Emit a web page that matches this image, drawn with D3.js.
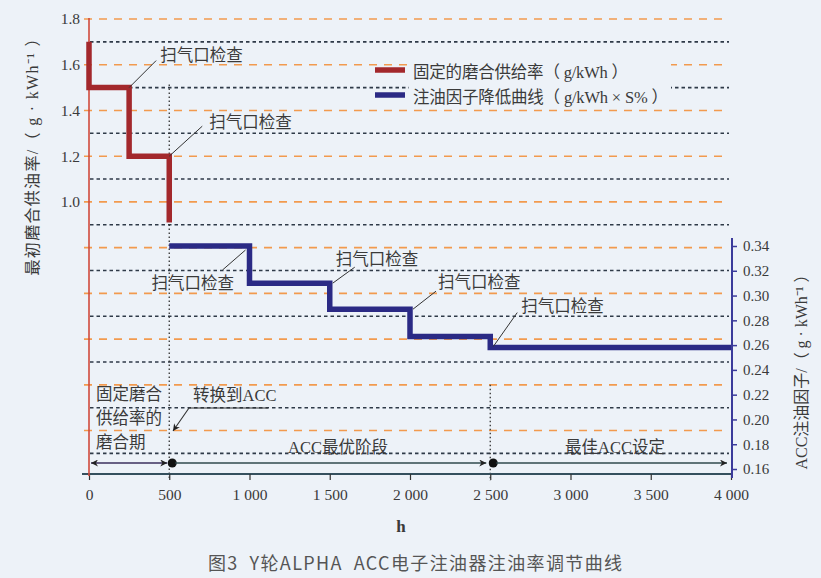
<!DOCTYPE html>
<html><head><meta charset="utf-8">
<script src="https://cdn.jsdelivr.net/npm/d3@7"></script>
<style>
html,body{margin:0;padding:0;background:#edf2f8;}
svg{display:block;}
</style></head>
<body>
<svg id="chart" width="821" height="578"></svg>
<script>
// ---- data ----
const redHours   = [0, 0, 250, 250, 500, 500];
const redRates   = [1.7, 1.5, 1.5, 1.2, 1.2, 0.91];
const blueHours  = [500, 1000, 1000, 1500, 1500, 2000, 2000, 2500, 2500, 4000];
const blueFactors= [0.34, 0.34, 0.31, 0.31, 0.289, 0.289, 0.267, 0.267, 0.258, 0.258];
const xTicks     = [0, 500, 1000, 1500, 2000, 2500, 3000, 3500, 4000];
const leftTicks  = [1.0, 1.2, 1.4, 1.6, 1.8];
const rightTicks = [0.16, 0.18, 0.20, 0.22, 0.24, 0.26, 0.28, 0.30, 0.32, 0.34];
const gridValues = d3.range(-1, 19).map(i => i / 10);   // -0.1 ... 1.8
const checkLabel = "扫气口检查";
const legendLabels = ["固定的磨合供给率（ g/kWh ）", "注油因子降低曲线（ g/kWh × S% ）"];
const phaseLabels = ["ACC最优阶段", "最佳ACC设定"];
const breakInLabel = ["固定磨合", "供给率的", "磨合期"];
const switchLabel = "转换到ACC";
const leftTitle = "最初磨合供油率/（ g · kWh⁻¹ ）";
const rightTitle = "ACC注油因子/（ g · kWh⁻¹ ）";
const xTitle = "h";
const caption = "图3  Y轮ALPHA  ACC电子注油器注油率调节曲线";

// ---- setup ----
const svg = d3.select("#chart");
const serif = "'Liberation Serif','Noto Sans CJK SC',serif";
const cjk = "'Noto Sans CJK SC',sans-serif";
const txt = "#3a3a3a";
const RED = "#a3282c", BLUE = "#2b2a85", ORANGE = "#f29a4e";

const x = d3.scaleLinear().domain([0, 4000]).range([89, 731]);
const yL = d3.scaleLinear().domain([-0.19, 1.8]).range([474, 19]);
const yR = d3.scaleLinear().domain([0.16, 0.34]).range([469, 246]);

svg.append("rect").attr("width", 821).attr("height", 578).attr("fill", "#edf2f8");

// markers
const defs = svg.append("defs");
defs.append("marker").attr("id", "arr").attr("viewBox", "0 0 10 10")
  .attr("refX", 10).attr("refY", 5).attr("markerWidth", 9).attr("markerHeight", 7)
  .attr("markerUnits", "userSpaceOnUse").attr("orient", "auto-start-reverse")
  .append("path").attr("d", "M0,0 L10,5 L0,10 L3,5 Z").attr("fill", "#222");

// gridlines
svg.append("g").selectAll("line").data(gridValues).join("line")
  .attr("x1", d => Math.round(d * 10) % 2 === 0 ? 84 : 90).attr("x2", 729)
  .attr("y1", d => yL(d)).attr("y2", d => yL(d))
  .attr("stroke", d => Math.round(d * 10) % 2 === 0 ? ORANGE : "#2f3a48")
  .attr("stroke-width", 1.6)
  .attr("stroke-dasharray", d => Math.round(d * 10) % 2 === 0 ? "8,7" : "3.5,3");

// vertical dotted phase lines
svg.append("line").attr("x1", x(500)).attr("x2", x(500)).attr("y1", yL(1.5) - 3).attr("y2", 479)
  .attr("stroke", "#333").attr("stroke-width", 1.3).attr("stroke-dasharray", "1.5,2.5");
svg.append("line").attr("x1", x(2500)).attr("x2", x(2500)).attr("y1", yL(0.2)).attr("y2", 481)
  .attr("stroke", "#333").attr("stroke-width", 1.3).attr("stroke-dasharray", "1.5,2.5");

// legend background covering grid behind text
svg.append("rect").attr("x", 409).attr("y", 59).attr("width", 262).attr("height", 47).attr("fill", "#edf2f8");

// x axis
svg.append("line").attr("x1", 82).attr("x2", 731).attr("y1", 474).attr("y2", 474)
  .attr("stroke", "#35505e").attr("stroke-width", 2);
const fmtX = d => d >= 1000 ? `${Math.floor(d / 1000)} ${String(d % 1000).padStart(3, "0")}` : `${d}`;
const gx = svg.append("g").attr("transform", "translate(0,474)")
  .call(d3.axisBottom(x).tickValues(xTicks).tickFormat(fmtX).tickSize(6).tickPadding(9));
gx.select(".domain").remove();
gx.selectAll(".tick line").attr("stroke", "#333").attr("stroke-width", 1.2);
gx.selectAll(".tick text").attr("font-family", serif).attr("font-size", 15.5).attr("fill", txt);

// left axis
svg.append("line").attr("x1", 89).attr("x2", 89).attr("y1", 18).attr("y2", 476)
  .attr("stroke", "#d04a3c").attr("stroke-width", 1.6);
const gl = svg.append("g").attr("transform", "translate(89,0)")
  .call(d3.axisLeft(yL).tickValues(leftTicks).tickFormat(d3.format(".1f")).tickSize(0).tickPadding(9));
gl.select(".domain").remove();
gl.selectAll(".tick text").attr("font-family", serif).attr("font-size", 15.5).attr("fill", txt);

// right axis
svg.append("line").attr("x1", 732).attr("x2", 732).attr("y1", 238).attr("y2", 478)
  .attr("stroke", "#3b3b9b").attr("stroke-width", 2);
const gr = svg.append("g").attr("transform", "translate(732,0)")
  .call(d3.axisRight(yR).tickValues(rightTicks).tickFormat(d3.format(".2f")).tickSize(5).tickPadding(6));
gr.select(".domain").remove();
gr.selectAll(".tick line").attr("stroke", "#3b3b9b").attr("stroke-width", 1.5);
gr.selectAll(".tick text").attr("font-family", serif).attr("font-size", 15).attr("fill", txt);

// step lines
const redPts = redHours.map((h, i) => [x(h), yL(redRates[i])]);
const bluePts = blueHours.map((h, i) => [x(h), yR(blueFactors[i])]);
svg.append("path").attr("d", d3.line()(redPts)).attr("fill", "none")
  .attr("stroke", RED).attr("stroke-width", 5.5).attr("stroke-linejoin", "miter");
svg.append("path").attr("d", d3.line()(bluePts)).attr("fill", "none")
  .attr("stroke", BLUE).attr("stroke-width", 5.5).attr("stroke-linejoin", "miter");

// legend
[[RED, 70, 215], [BLUE, 95, 255]].forEach(([c, yy, len], i) => {
  svg.append("line").attr("x1", 375).attr("x2", 405).attr("y1", yy).attr("y2", yy)
    .attr("stroke", c).attr("stroke-width", 5.5);
  svg.append("text").attr("x", 413).attr("y", yy + 2).attr("dominant-baseline", "central")
    .attr("font-family", serif).attr("font-size", 16.5).attr("fill", txt)
    .attr("textLength", len).attr("lengthAdjust", "spacing").text(legendLabels[i]);
});

// annotations "扫气口检查"
const checks = [
  { p: [x(250), yL(1.5)], d: [27, -27], t: [31, -34] },
  { p: [x(500), yL(1.2)], d: [33, -30], t: [40, -35] },
  { p: [x(1000) - 4, yR(0.34) + 4], d: [-23, 20], t: [-94, 32] },
  { p: [x(1500) + 3, yR(0.31)], d: [22, -16], t: [3, -25] },
  { p: [x(2000) + 3, yR(0.289)], d: [23, -18], t: [25, -28] },
  { p: [x(2500) + 3, yR(0.258) - 1], d: [24, -34], t: [28, -42] }
];
checks.forEach(c => {
  svg.append("line").attr("x1", c.p[0]).attr("y1", c.p[1])
    .attr("x2", c.p[0] + c.d[0]).attr("y2", c.p[1] + c.d[1])
    .attr("stroke", "#333").attr("stroke-width", 1);
  svg.append("text").attr("x", c.p[0] + c.t[0]).attr("y", c.p[1] + c.t[1])
    .attr("dominant-baseline", "central").attr("font-family", cjk).attr("font-size", 16.5)
    .attr("fill", txt).text(checkLabel);
});

// break-in period label
breakInLabel.forEach((s, i) => {
  svg.append("text").attr("x", 96).attr("y", 393 + i * 24).attr("dominant-baseline", "central")
    .attr("font-family", cjk).attr("font-size", 16.5).attr("fill", txt).text(s);
});

// switch to ACC
svg.append("text").attr("x", 193).attr("y", 395).attr("dominant-baseline", "central")
  .attr("font-family", serif).attr("font-size", 16.5).attr("fill", txt).text(switchLabel);
svg.append("path").attr("d", "M268,408 L189,408 L173,431").attr("fill", "none")
  .attr("stroke", "#333").attr("stroke-width", 1.1).attr("marker-end", "url(#arr)");

// phase labels
svg.append("text").attr("x", 338).attr("y", 447).attr("text-anchor", "middle").attr("dominant-baseline", "central")
  .attr("font-family", serif).attr("font-size", 16.5).attr("fill", txt).text(phaseLabels[0]);
svg.append("text").attr("x", 615).attr("y", 447).attr("text-anchor", "middle").attr("dominant-baseline", "central")
  .attr("font-family", serif).attr("font-size", 16.5).attr("fill", txt).text(phaseLabels[1]);

// phase arrows
const ay = 463;
svg.append("line").attr("x1", x(0) + 2).attr("x2", x(500) - 2).attr("y1", ay).attr("y2", ay)
  .attr("stroke", "#3a2f5e").attr("stroke-width", 1.3)
  .attr("marker-start", "url(#arr)").attr("marker-end", "url(#arr)");
svg.append("circle").attr("cx", x(500) + 3).attr("cy", ay).attr("r", 4.5).attr("fill", "#111");
svg.append("line").attr("x1", x(500) + 6).attr("x2", x(2500) - 4).attr("y1", ay).attr("y2", ay)
  .attr("stroke", "#2f4a4e").attr("stroke-width", 1.3).attr("marker-end", "url(#arr)");
svg.append("circle").attr("cx", x(2500) + 3).attr("cy", ay).attr("r", 4.5).attr("fill", "#111");
svg.append("line").attr("x1", x(2500) + 6).attr("x2", x(4000) - 4).attr("y1", ay).attr("y2", ay)
  .attr("stroke", "#2f4a4e").attr("stroke-width", 1.3).attr("marker-end", "url(#arr)");

// axis titles
svg.append("text").attr("transform", "translate(32,153) rotate(-90)").attr("text-anchor", "middle")
  .attr("dominant-baseline", "central").attr("font-family", serif).attr("font-size", 16)
  .attr("textLength", 245).attr("lengthAdjust", "spacing")
  .attr("fill", txt).text(leftTitle);
svg.append("text").attr("transform", "translate(801,368) rotate(-90)").attr("text-anchor", "middle")
  .attr("dominant-baseline", "central").attr("font-family", serif).attr("font-size", 16)
  .attr("textLength", 203).attr("lengthAdjust", "spacing")
  .attr("fill", txt).text(rightTitle);
svg.append("text").attr("x", 401).attr("y", 526).attr("text-anchor", "middle").attr("dominant-baseline", "central")
  .attr("font-family", serif).attr("font-size", 17).attr("font-weight", "bold").attr("fill", txt).text(xTitle);

// caption
svg.append("text").attr("x", 415).attr("y", 562).attr("text-anchor", "middle").attr("dominant-baseline", "central")
  .attr("font-family", cjk).attr("font-size", 18).attr("fill", "#555")
  .attr("xml:space", "preserve").style("white-space", "pre")
  .attr("textLength", 414).attr("lengthAdjust", "spacing").text(caption);
</script>
</body></html>
